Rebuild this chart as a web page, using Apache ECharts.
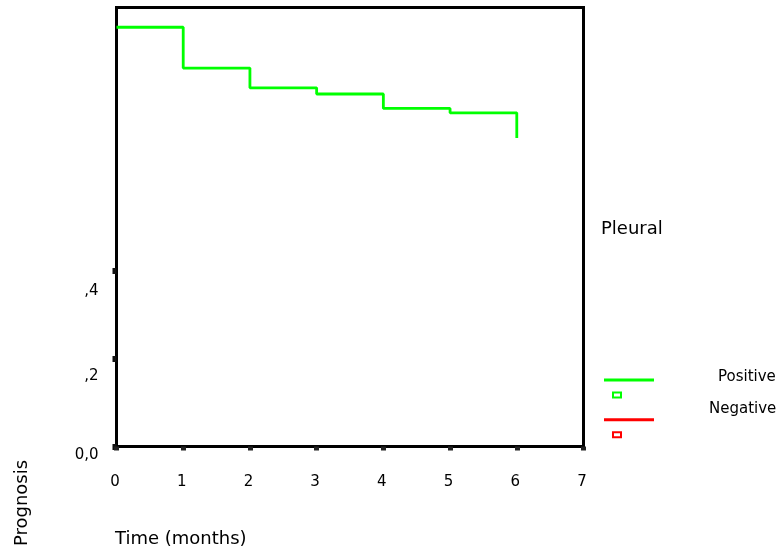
<!DOCTYPE html>
<html>
<head>
<meta charset="utf-8">
<script src="https://cdn.jsdelivr.net/npm/echarts@6/dist/echarts.min.js"></script>
<style>html,body{margin:0;padding:0;background:#fff;}#c{width:783px;height:558px;}</style>
</head>
<body>
<div id="c"></div>
<script>
// ---- data ----
var times = [0, 1, 2, 3, 4, 5, 6];
var positiveSurvival = [0.955, 0.862, 0.817, 0.803, 0.770, 0.760, 0.703];
var negativeSurvival = [];
var xTickValues = [0, 1, 2, 3, 4, 5, 6, 7];
var xTickLabels = ['0', '1', '2', '3', '4', '5', '6', '7'];
var yTickValues = [0, 0.2, 0.4];
var yTickLabels = ['0,0', ',2', ',4'];
var seriesNames = ['Positive', 'Negative'];
var legendTitle = 'Pleural';
var xTitle = 'Time (months)';
var yTitle = 'Prognosis';

var FONT = 'DejaVu Sans';
var chart = echarts.init(document.getElementById('c'), null, {renderer: 'canvas'});

var posData = times.map(function (t, i) { return [t, positiveSurvival[i]]; });
var negData = negativeSurvival.map(function (v, i) { return [times[i], v]; });

// legend glyph: line on top, small outlined square below (SPSS style); an empty
// sub-path above extends the box so the label sits where SPSS drew it
function legendIcon(extra) {
  return 'path://M0,' + (-extra) + 'L0,' + (-extra) + 'Z M0,0H50V3H0Z M8,13H18V15H8Z M8,18H18V20H8Z M8,13H10V20H8Z M16,13H18V20H16Z';
}

var yPads = [18, 34, 40];
var yRich = {};
yTickLabels.forEach(function (l, i) {
  yRich['l' + i] = {fontFamily: FONT, fontSize: 15, color: '#000', padding: [yPads[i], 0, 0, 0]};
});

function makeLegend(name, top, extra, padLeft) {
  return {
    orient: 'vertical', left: 604, top: top, padding: 0,
    itemWidth: 50, itemHeight: 20 + extra, icon: legendIcon(extra),
    itemStyle: {borderWidth: 0},
    selectedMode: false,
    data: [name],
    formatter: function (n) { return '{t|' + n + '}'; },
    textStyle: {
      fontFamily: FONT, fontSize: 15, color: '#000',
      rich: {t: {fontFamily: FONT, fontSize: 15, color: '#000', padding: [0, 0, 0, padLeft]}}
    }
  };
}

var option = {
  animation: false,
  backgroundColor: '#fff',
  grid: {
    left: 116.5, top: 7.5, right: 199.5, bottom: 111.5,
    show: true, borderColor: '#000', borderWidth: 3, backgroundColor: 'transparent'
  },
  xAxis: {
    type: 'value', min: 0, max: 7, interval: 1,
    axisLine: {show: false},
    axisTick: {show: true, length: 4, lineStyle: {color: '#222', width: 5}},
    axisLabel: {
      show: true, margin: 28, fontFamily: FONT, fontSize: 15, color: '#000',
      padding: [0, 3, 0, 0],
      showMinLabel: true, showMaxLabel: true,
      formatter: function (v) { var i = xTickValues.indexOf(v); return i >= 0 ? xTickLabels[i] : ''; }
    },
    splitLine: {show: false}
  },
  yAxis: {
    type: 'value', min: 0, max: 1,
    axisLine: {show: false},
    axisTick: {show: true, length: 4, customValues: yTickValues, lineStyle: {color: '#111', width: 6}},
    axisLabel: {
      show: true, margin: 18, customValues: yTickValues,
      fontFamily: FONT, fontSize: 15, color: '#000',
      formatter: function (v) {
        for (var i = 0; i < yTickValues.length; i++) {
          if (Math.abs(yTickValues[i] - v) < 1e-9) return '{l' + i + '|' + yTickLabels[i] + '}';
        }
        return '';
      },
      rich: yRich
    },
    splitLine: {show: false}
  },
  legend: [
    makeLegend(seriesNames[0], 356.5, 22, 59),
    makeLegend(seriesNames[1], 379.3, 39, 50)
  ],
  graphic: [
    {type: 'text', left: 601, top: 220, style: {text: legendTitle, font: '18px "DejaVu Sans"', fill: '#000'}},
    {type: 'text', x: 115, y: 539, style: {text: xTitle, font: '18px "DejaVu Sans"', fill: '#000', align: 'left', verticalAlign: 'middle'}},
    {type: 'text', x: 22, y: 503, rotation: Math.PI / 2, style: {text: yTitle, font: '18px "DejaVu Sans"', fill: '#000', align: 'center', verticalAlign: 'middle'}}
  ],
  series: [
    {
      name: seriesNames[0], type: 'line', step: 'end', data: posData,
      symbol: 'none', color: '#00ff00',
      lineStyle: {color: '#00ff00', width: 2.8}
    },
    {
      name: seriesNames[1], type: 'line', step: 'end', data: negData,
      symbol: 'none', color: '#ff0000',
      lineStyle: {color: '#ff0000', width: 2.8}
    }
  ]
};
chart.setOption(option);
</script>
</body>
</html>
